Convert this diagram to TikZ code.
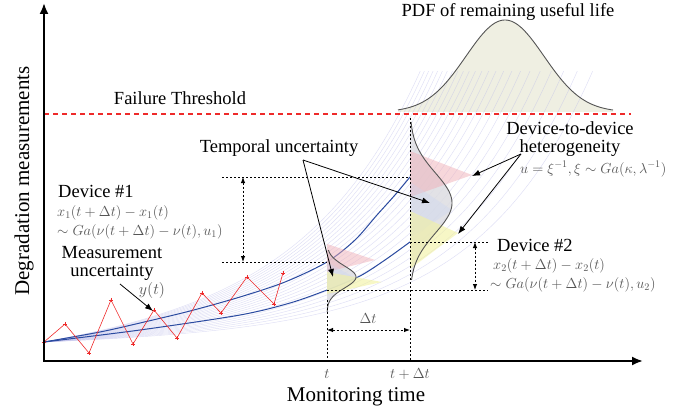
\RequirePackage{fix-cm}
\documentclass[tikz,border=0pt]{standalone}
\usepackage{fontspec}
\setmainfont{Liberation Serif}
\usetikzlibrary{arrows.meta}
\definecolor{lav}{HTML}{BEBEEA}
\definecolor{bluec}{HTML}{2B4BA0}
\definecolor{redc}{HTML}{EE2A2A}
\definecolor{mathgray}{HTML}{555555}
\definecolor{pdfbeige}{HTML}{EFEFE2}
\definecolor{pdfline}{HTML}{555555}
\definecolor{pinkc}{HTML}{F0B0B8}
\definecolor{yellc}{HTML}{F2F2A0}
\definecolor{lblue}{HTML}{C8D4F2}
\definecolor{pdfgray}{HTML}{DDDDE2}
\begin{document}
\begin{tikzpicture}[x=1pt,y=-1pt,
  txt/.style={font=\fontsize{18.5}{18}\selectfont, inner sep=0pt, align=center},
  bigtxt/.style={font=\fontsize{21}{24}\selectfont, inner sep=0pt},
  mth/.style={font=\fontsize{14.5}{17}\selectfont, text=mathgray, inner sep=0pt},
  ptr/.style={-{Latex[length=8pt,width=6pt]}, line width=0.8pt},
  dotl/.style={line width=0.9pt, dash pattern=on 2pt off 2pt},
  dimarr/.style={dotl, {Latex[length=6pt,width=4.5pt]}-{Latex[length=6pt,width=4.5pt]}},
  axisline/.style={line width=2pt, -{Latex[length=11pt,width=9pt]}},
  fan/.style={lav, line width=0.45pt, opacity=0.5},
  blueline/.style={bluec, line width=1pt},
  pdfout/.style={pdfline, line width=0.9pt}]
\useasboundingbox (0,0) rectangle (688,417);

% coordinates
\coordinate (O) at (44,361);
\coordinate (ytop) at (44,3);
\coordinate (xend) at (643,361);
\coordinate (orig) at (44,342);

% big PDF fill
\fill[pdfbeige] (398,112) -- plot[domain=398:613,samples=90] (\x,{112-92*exp(-(\x-505)*(\x-505)/3042)}) -- (613,112) -- cycle;

% fan of trajectories
\begin{scope}
\clip (44,72) rectangle (632,345);
\foreach \c in {0.36,0.41,...,1.56}
  \draw[fan] plot[domain=0:1.6, samples=70, smooth] ({44+366*\x},{342-\c*(25*\x+5.95*(exp(3.2*\x)-1))});
\end{scope}

% big PDF outline
\draw[pdfout] plot[domain=398:613,samples=90] (\x,{112-92*exp(-(\x-505)*(\x-505)/3042)});

% threshold
\coordinate (thA) at (44,114);
\coordinate (thB) at (631,114);
\draw[redc, line width=1.2pt, dash pattern=on 5pt off 4pt] (thA) -- (thB);

% blue device curves
\draw[blueline] plot[smooth] coordinates {(44,342) (100,332) (140,323) (190,311) (240,297) (285,282) (327,262) (355,240) (377,215) (395,195) (410,177)};
\draw[blueline] plot[smooth] coordinates {(44,342) (140,330) (240,315) (290,303) (327,290) (360,276) (385,260) (410,242)};

% measurement zigzag
\draw[redc, line width=0.6pt, mark=+, mark size=2.2pt, mark options={redc, line width=0.6pt}] plot coordinates {(44,342) (65,324) (89,353) (111,300) (133,344) (154,310) (177,338) (202,293) (221,313) (247,277) (274,304) (283,273)};

% left PDF at t
\fill[pdfgray, opacity=0.85] (327,250) -- plot[domain=250:312,samples=50] ({327+29*exp(-(\x-277)*(\x-277)/242)},\x) -- cycle;
\fill[pinkc, opacity=0.5] (327,244) -- (375,260) -- (327,272) -- cycle;
\fill[lblue, opacity=0.3] (327,262) -- (357,279) -- (327,290) -- cycle;
\fill[yellc, opacity=0.6] (327,272) -- (382,282) -- (327,294) -- cycle;
\draw[pdfout] plot[domain=250:312,samples=50] ({327+29*exp(-(\x-277)*(\x-277)/242)},\x);

% right PDF at t+dt
\fill[pdfgray, opacity=0.85] (410,122) -- plot[domain=122:280,samples=80] ({410+42*exp(-(\x-203)*(\x-203)/1800)},\x) -- cycle;
\fill[pinkc, opacity=0.5] (410,151) -- (472,175) -- (410,197) -- cycle;
\fill[lblue, opacity=0.3] (410,182) -- (452,210) -- (410,238) -- cycle;
\fill[yellc, opacity=0.6] (410,211) -- (458,233) -- (410,269) -- cycle;
\draw[pdfout] plot[domain=122:280,samples=80] ({410+42*exp(-(\x-203)*(\x-203)/1800)},\x);

% dotted guide lines
\coordinate (g1a) at (222,177); \coordinate (g1b) at (410,177);
\coordinate (g2a) at (222,262); \coordinate (g2b) at (327,262);
\coordinate (a1t) at (243,177); \coordinate (a1b) at (243,262);
\coordinate (g3a) at (410,242); \coordinate (g3b) at (488,242);
\coordinate (g4a) at (327,290); \coordinate (g4b) at (488,290);
\coordinate (a2t) at (475,242); \coordinate (a2b) at (475,290);
\coordinate (v1t) at (327,300); \coordinate (v1b) at (327,361);
\coordinate (v2t) at (410,118); \coordinate (v2b) at (410,361);
\coordinate (dtA) at (327,330); \coordinate (dtB) at (410,330);
\draw[dotl] (g1a) -- (g1b);
\draw[dotl] (g2a) -- (g2b);
\draw[dimarr] (a1t) -- (a1b);
\draw[dotl] (g3a) -- (g3b);
\draw[dotl] (g4a) -- (g4b);
\draw[dimarr] (a2t) -- (a2b);
\draw[dotl] (v1t) -- (v1b);
\draw[dotl] (v2t) -- (v2b);
\draw[dimarr] (dtA) -- (dtB);

% axes
\draw[axisline] (O) -- (ytop);
\draw[axisline] ([xshift=-1pt]O) -- (xend);

% texts
\node[txt] (ft) at (180,98) {Failure Threshold};
\node[txt] (pdft) at (508,12) {PDF of remaining useful life};
\node[txt] (tu) at (279,148) {Temporal uncertainty};
\node[txt, anchor=west] (d1) at (58,191) {Device \#1};
\node[mth, anchor=west] (d1a) at (57,213) {$x_1(t+\Delta t)-x_1(t)$};
\node[mth, anchor=west] (d1b) at (57,232) {$\sim Ga(\nu(t+\Delta t)-\nu(t),u_1)$};
\node[txt] (mu) at (112,263) {Measurement\\uncertainty};
\node[mth, font=\fontsize{16}{18}\selectfont] (yt) at (152,290) {$y(t)$};
\node[txt] (dd) at (570,139) {Device-to-device\\heterogeneity};
\node[mth, anchor=west] (uxi) at (520,169) {$u=\xi^{-1},\xi\sim Ga(\kappa,\lambda^{-1})$};
\node[txt, anchor=west] (d2) at (497,245) {Device \#2};
\node[mth, anchor=west] (d2a) at (493,266) {$x_2(t+\Delta t)-x_2(t)$};
\node[mth, anchor=west] (d2b) at (490,285) {$\sim Ga(\nu(t+\Delta t)-\nu(t),u_2)$};
\node[mth] (tl) at (327,374) {$t$};
\node[mth] (tdl) at (410,374) {$t+\Delta t$};
\node[mth] (dtl) at (368,319) {$\Delta t$};
\node[bigtxt] (xl) at (356,397) {Monitoring time};
\node[bigtxt, rotate=90] (yl) at (24,181) {Degradation measurements};

% pointer arrows
\coordinate (tus) at (303,160);
\coordinate (tuA) at (430,203);
\coordinate (tuB) at (333,277);
\draw[ptr] (tus) -- (tuA);
\draw[ptr] (tus) -- (tuB);
\coordinate (mus) at (120,284);
\coordinate (mue) at (153,311);
\draw[ptr] (mus) -- (mue);
\coordinate (dds) at (521,154);
\coordinate (ddA) at (472,176);
\coordinate (ddB) at (458,234);
\draw[ptr] (dds) -- (ddA);
\draw[ptr] (dds) -- (ddB);
\end{tikzpicture}
\end{document}
